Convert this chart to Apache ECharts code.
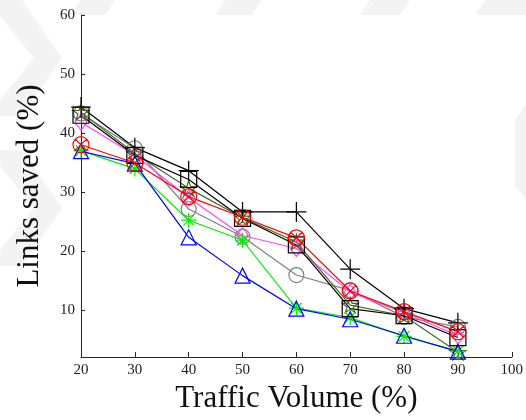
<!DOCTYPE html>
<html>
<head>
<meta charset="utf-8">
<title>Links saved vs traffic volume</title>
<script src="https://cdn.jsdelivr.net/npm/echarts@6/dist/echarts.min.js"></script>
<style>
  html, body { margin: 0; padding: 0; background: #ffffff; }
  #chart { width: 526px; height: 420px; }
</style>
</head>
<body>
<div id="chart"></div>
<script>
// Traffic volume levels (%)
const traffic = [20, 30, 40, 50, 60, 70, 80, 90];

// Links saved (%) for each scheme
const plusBlack      = [44.4, 37.5, 33.6, 26.6, 26.6, 16.9, 10.2, 7.8];
const squareBlack    = [43.0, 36.2, 32.1, 25.5, 21.0, 10.2, 9.0, 5.3];
const circleXRed     = [38.0, 34.9, 29.2, 25.7, 22.2, 13.2, 9.7, 6.3];
const circleGray     = [43.3, 37.4, 27.1, 22.4, 15.9, 13.3, 8.8, 7.1];
const diamondMagenta = [41.8, 36.2, 29.0, 22.6, 20.4, 13.0, 9.5, 5.6];
const starGreen      = [37.0, 33.9, 25.2, 21.8, 10.3, 8.7, 5.5, 3.0];
const triangleBlue   = [36.9, 34.8, 22.3, 15.8, 10.2, 8.4, 5.6, 2.9];
const pentagramOlive = [43.5, 36.5, 30.6, 25.6, 21.5, 10.8, 9.0, 2.8];

// Axis tick values
const xTicks = [20, 30, 40, 50, 60, 70, 80, 90, 100];
const yTicks = [10, 20, 30, 40, 50, 60];

const SYM = {
  plus: 'path://M10,0L10,20M0,10L20,10',
  asterisk: 'path://M10,0L10,20M0,10L20,10M3,3L17,17M17,3L3,17',
  circleX: 'path://M0,10A10,10,0,1,1,20,10A10,10,0,1,1,0,10ZM2.93,2.93L17.07,17.07M17.07,2.93L2.93,17.07',
  pentagram: 'path://M10,0L12.25,6.91L19.51,6.91L13.63,11.18L15.88,18.09L10,13.82L4.12,18.09L6.37,11.18L0.49,6.91L7.75,6.91Z'
};

function pairs(ys) { return traffic.map((x, i) => [x, ys[i]]); }

function makeSeries(name, ys, color, symbol, size) {
  return {
    name: name,
    type: 'line',
    data: pairs(ys),
    symbol: symbol,
    symbolSize: size,
    symbolKeepAspect: true,
    showAllSymbol: true,
    lineStyle: { color: color, width: 1.2 },
    itemStyle: { color: 'transparent', borderColor: color, borderWidth: 1.2 },
    emphasis: { disabled: true },
    animation: false
  };
}

const serifFont = '"Liberation Serif", "DejaVu Serif", serif';
const wm = '#f3f3f3';

const chart = echarts.init(document.getElementById('chart'), null, { renderer: 'canvas' });
chart.setOption({
  backgroundColor: '#ffffff',
  animation: false,
  graphic: [
    { type: 'polygon', z: -10, silent: true, shape: { points: [[0,0],[22,0],[62,58],[22,116],[0,116],[0,100],[34,58],[0,16]] }, style: { fill: wm } },
    { type: 'polygon', z: -10, silent: true, shape: { points: [[0,150],[22,150],[62,208],[22,266],[0,266],[0,250],[34,208],[0,166]] }, style: { fill: wm } },
    { type: 'polygon', z: -10, silent: true, shape: { points: [[70,15],[80,0],[115,0],[105,15]] }, style: { fill: wm } },
    { type: 'polygon', z: -10, silent: true, shape: { points: [[215,15],[225,0],[262,0],[252,15]] }, style: { fill: wm } },
    { type: 'polygon', z: -10, silent: true, shape: { points: [[360,15],[370,0],[410,0],[400,15]] }, style: { fill: wm } },
    { type: 'polygon', z: -10, silent: true, shape: { points: [[475,15],[485,0],[526,0],[526,15]] }, style: { fill: wm } },
    { type: 'polygon', z: -10, silent: true, shape: { points: [[515,120],[526,105],[526,200],[515,185]] }, style: { fill: wm } }
  ],
  grid: {
    left: 81, right: 11, top: 15, bottom: 63,
    show: true, backgroundColor: '#ffffff', borderWidth: 0
  },
  xAxis: {
    type: 'value',
    min: 20, max: 100, interval: 10,
    name: 'Traffic Volume (%)',
    nameLocation: 'middle',
    nameGap: 26,
    nameTextStyle: { fontFamily: serifFont, fontSize: 31, color: '#111' },
    axisLine: { show: true, onZero: false, lineStyle: { color: '#262626', width: 1 } },
    axisTick: { show: true, inside: true, length: 5, lineStyle: { color: '#262626' }, customValues: xTicks },
    axisLabel: { fontFamily: serifFont, fontSize: 15, color: '#222', margin: 6, customValues: xTicks },
    splitLine: { show: false }
  },
  yAxis: {
    type: 'value',
    min: 2, max: 60,
    name: 'Links saved (%)',
    nameLocation: 'middle',
    nameGap: 36,
    nameRotate: 90,
    nameTextStyle: { fontFamily: serifFont, fontSize: 31, color: '#111' },
    axisLine: { show: true, onZero: false, lineStyle: { color: '#262626', width: 1 } },
    axisTick: { show: true, inside: true, length: 4, lineStyle: { color: '#262626' }, customValues: yTicks },
    axisLabel: { fontFamily: serifFont, fontSize: 15, color: '#222', margin: 6, customValues: yTicks },
    splitLine: { show: false }
  },
  series: [
    makeSeries('gray', circleGray, '#808080', 'circle', 15),
    makeSeries('magenta', diamondMagenta, '#ff44ff', 'diamond', [12, 16]),
    makeSeries('olive', pentagramOlive, '#4a6a26', SYM.pentagram, 16),
    makeSeries('green', starGreen, '#00ee00', SYM.asterisk, 15),
    makeSeries('blue', triangleBlue, '#0000ff', 'triangle', 15),
    makeSeries('square', squareBlack, '#000000', 'rect', 16),
    makeSeries('plus', plusBlack, '#000000', SYM.plus, 20),
    makeSeries('red', circleXRed, '#ff0000', SYM.circleX, 16)
  ]
});
</script>
</body>
</html>
